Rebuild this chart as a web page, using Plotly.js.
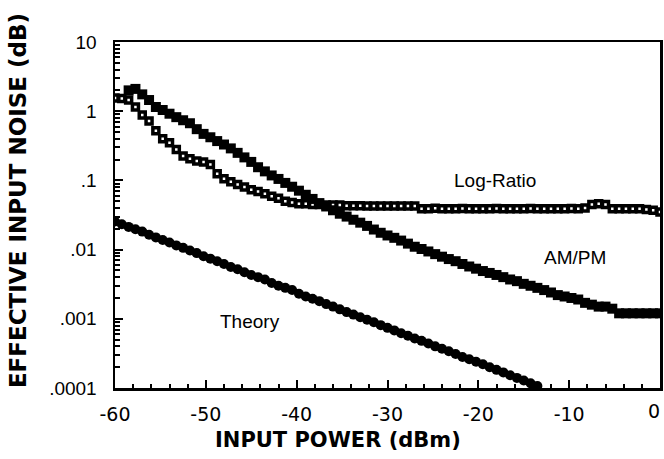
<!DOCTYPE html>
<html>
<head>
<meta charset="utf-8">
<script src="https://cdn.plot.ly/plotly-3.0.1.min.js"></script>
<style>html,body{margin:0;padding:0;background:#fff;}#chart{width:664px;height:459px;}</style>
</head>
<body>
<div id="chart"></div>
<script>
// Input power (dBm)
const powerLogRatio = [-60,-59.25,-58.5,-57.75,-57,-56.25,-55.5,-54.75,-54,-53.25,-52.5,-51.75,-51,-50.25,-49.5,-48.75,-48,-47.25,-46.5,-45.75,-45,-44.25,-43.5,-42.75,-42,-41.25,-40.5,-39.75,-39,-38.25,-37.5,-36.75,-36,-35.25,-34.5,-33.75,-33,-32.25,-31.5,-30.75,-30,-29.25,-28.5,-27.75,-27,-26.25,-25.5,-24.75,-24,-23.25,-22.5,-21.75,-21,-20.25,-19.5,-18.75,-18,-17.25,-16.5,-15.75,-15,-14.25,-13.5,-12.75,-12,-11.25,-10.5,-9.75,-9,-8.25,-7.5,-6.75,-6,-5.25,-4.5,-3.75,-3,-2.25,-1.5,-0.75,0];
const noiseLogRatio = [1.55,1.53,1.45,1.15,0.88,0.72,0.52,0.40,0.35,0.28,0.225,0.205,0.19,0.184,0.17,0.125,0.106,0.096,0.087,0.080,0.073,0.069,0.064,0.059,0.055,0.050,0.048,0.046,0.046,0.045,0.045,0.044,0.044,0.044,0.043,0.043,0.043,0.0428,0.0428,0.0426,0.0426,0.0428,0.0426,0.0425,0.0425,0.039,0.039,0.0395,0.039,0.0388,0.039,0.0392,0.039,0.0388,0.039,0.039,0.0392,0.039,0.0388,0.039,0.039,0.0392,0.039,0.039,0.0388,0.039,0.039,0.0392,0.039,0.040,0.045,0.046,0.045,0.039,0.039,0.0388,0.039,0.039,0.038,0.037,0.035];

const powerAMPM = [-58.5,-57.75,-57,-56.25,-55.5,-54.75,-54,-53.25,-52.5,-51.75,-51,-50.25,-49.5,-48.75,-48,-47.25,-46.5,-45.75,-45,-44.25,-43.5,-42.75,-42,-41.25,-40.5,-39.75,-39,-38.25,-37.5,-36.75,-36,-35.25,-34.5,-33.75,-33,-32.25,-31.5,-30.75,-30,-29.25,-28.5,-27.75,-27,-26.25,-25.5,-24.75,-24,-23.25,-22.5,-21.75,-21,-20.25,-19.5,-18.75,-18,-17.25,-16.5,-15.75,-15,-14.25,-13.5,-12.75,-12,-11.25,-10.5,-9.75,-9,-8.25,-7.5,-6.75,-6,-5.25,-4.5,-3.75,-3,-2.25,-1.5,-0.75,0];
const noiseAMPM = [2.0,2.1,1.75,1.45,1.15,1.04,0.92,0.82,0.74,0.67,0.55,0.47,0.42,0.37,0.33,0.29,0.25,0.215,0.185,0.155,0.135,0.118,0.105,0.092,0.081,0.071,0.062,0.054,0.047,0.042,0.037,0.033,0.030,0.027,0.0245,0.022,0.0195,0.0175,0.016,0.0148,0.0135,0.0122,0.011,0.0102,0.0094,0.0086,0.0079,0.0073,0.0068,0.0062,0.0057,0.0053,0.0049,0.0046,0.0043,0.0040,0.0037,0.0035,0.0032,0.0030,0.0028,0.0026,0.0024,0.0022,0.0021,0.0020,0.0019,0.0017,0.0016,0.0015,0.0015,0.0014,0.0012,0.0012,0.0012,0.0012,0.0012,0.0012,0.0012];

const powerTheory = [-60,-59.25,-58.5,-57.75,-57,-56.25,-55.5,-54.75,-54,-53.25,-52.5,-51.75,-51,-50.25,-49.5,-48.75,-48,-47.25,-46.5,-45.75,-45,-44.25,-43.5,-42.75,-42,-41.25,-40.5,-39.75,-39,-38.25,-37.5,-36.75,-36,-35.25,-34.5,-33.75,-33,-32.25,-31.5,-30.75,-30,-29.25,-28.5,-27.75,-27,-26.25,-25.5,-24.75,-24,-23.25,-22.5,-21.75,-21,-20.25,-19.5,-18.75,-18,-17.25,-16.5,-15.75,-15,-14.25,-13.5];
const noiseTheory = [0.0255,0.0232,0.0213,0.0197,0.0182,0.0164,0.0150,0.0138,0.0127,0.0115,0.0106,0.0097,0.0089,0.0080,0.0074,0.0068,0.0062,0.0056,0.0052,0.0047,0.0043,0.0040,0.0037,0.0033,0.0030,0.0028,0.0026,0.0023,0.0021,0.00195,0.0018,0.00163,0.0015,0.00137,0.00125,0.00115,0.00105,0.00097,0.00089,0.00081,0.00074,0.00068,0.00062,0.00057,0.00052,0.00048,0.00044,0.00040,0.00037,0.00034,0.00031,0.00028,0.00026,0.00024,0.00022,0.00020,0.000183,0.000168,0.000153,0.00014,0.000128,0.000117,0.000107];

const xTickVals = [-60,-50,-40,-30,-20,-10,0];
const xTickText = ['-60','-50','-40','-30','-20','-10','0'];
const yTickVals = [10,1,0.1,0.01,0.001,0.0001];
const yTickText = ['10','1','.1','.01','.001','.0001'];

const seriesLabels = ['Log-Ratio','AM/PM','Theory'];
const xTitle = 'INPUT POWER (dBm)';
const yTitle = 'EFFECTIVE INPUT NOISE (dB)';

const traces = [
  {x: powerLogRatio, y: noiseLogRatio, name: seriesLabels[0], type: 'scatter', mode: 'markers',
   marker: {symbol: 'square', size: 6, color: '#fff', line: {color: '#000', width: 3.5}}},
  {x: powerAMPM, y: noiseAMPM, name: seriesLabels[1], type: 'scatter', mode: 'markers',
   marker: {symbol: 'square', size: 10, color: '#000', line: {width: 0}}},
  {x: powerTheory, y: noiseTheory, name: seriesLabels[2], type: 'scatter', mode: 'markers',
   marker: {symbol: 'circle', size: 10, color: '#000', line: {width: 0}}}
];

// the last tick label ("0") sits at the very right edge of the figure; it is
// drawn as an annotation anchored at the 0 tick so it is not clipped.
const nAxisLabels = xTickVals.length - 1;

const layout = {
  width: 664, height: 459,
  margin: {l: 115, r: 4, t: 42, b: 71},
  paper_bgcolor: '#fff', plot_bgcolor: '#fff',
  showlegend: false,
  font: {family: 'Liberation Sans, Arial, sans-serif', color: '#000', size: 18},
  xaxis: {
    range: [-60, 0], tickvals: xTickVals.slice(0, nAxisLabels), ticktext: xTickText.slice(0, nAxisLabels),
    ticks: 'inside', ticklen: 8, tickwidth: 2, tickcolor: '#000',
    minor: {dtick: 2, ticks: 'inside', ticklen: 4, tickwidth: 2, tickcolor: '#000', showgrid: false},
    showline: true, linewidth: 2.5, linecolor: '#000', mirror: true,
    showgrid: false, zeroline: false, ticklabelstandoff: 8,
    tickfont: {family: 'DejaVu Sans, sans-serif', size: 19}
  },
  yaxis: {
    type: 'log', range: [-4, 1], tickvals: yTickVals, ticktext: yTickText,
    ticks: 'inside', ticklen: 8, tickwidth: 2, tickcolor: '#000',
    minor: {dtick: 'D1', ticks: 'inside', ticklen: 5, tickwidth: 2, tickcolor: '#000', showgrid: false},
    showline: true, linewidth: 2.5, linecolor: '#000', mirror: true,
    showgrid: false, zeroline: false, ticklabelstandoff: 12,
    tickfont: {size: 19}
  },
  annotations: [
    {x: xTickVals[nAxisLabels], y: 0, xref: 'x', yref: 'paper', xanchor: 'right', yanchor: 'top', yshift: -10, xshift: 2,
     text: xTickText[nAxisLabels], showarrow: false, font: {family: 'DejaVu Sans, sans-serif', size: 19}},
    {x: -18.2, y: Math.log10(0.1), xref: 'x', yref: 'y', text: seriesLabels[0], showarrow: false, font: {size: 19}},
    {x: -9.4, y: Math.log10(0.0078), xref: 'x', yref: 'y', text: seriesLabels[1], showarrow: false, font: {size: 19}},
    {x: -45.1, y: Math.log10(0.0009), xref: 'x', yref: 'y', text: seriesLabels[2], showarrow: false, font: {size: 19}},
    {x: 0.409, y: -0.150, xref: 'paper', yref: 'paper', xanchor: 'center', yanchor: 'middle',
     text: '<b>' + xTitle + '</b>', showarrow: false, font: {family: 'DejaVu Sans, sans-serif', size: 21}},
    {x: -0.178, y: 0.543, xref: 'paper', yref: 'paper', xanchor: 'center', yanchor: 'middle',
     text: '<b>' + yTitle + '</b>', textangle: -90, showarrow: false, font: {family: 'DejaVu Sans, sans-serif', size: 23}}
  ]
};

Plotly.newPlot('chart', traces, layout, {staticPlot: true, displayModeBar: false});
</script>
</body>
</html>
